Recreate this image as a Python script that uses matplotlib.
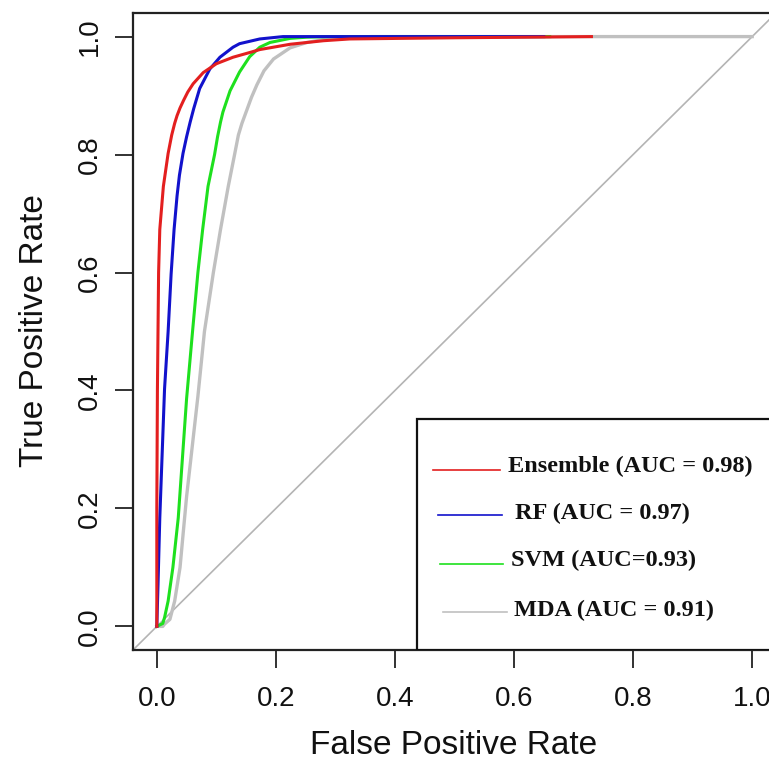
import matplotlib.pyplot as plt
from matplotlib.patches import Rectangle

# ROC curve points (false positive rate, true positive rate)
ens_fpr = [0, 0.0, 0.001, 0.003, 0.005, 0.011, 0.019, 0.025, 0.030, 0.034, 0.039, 0.045, 0.052,
           0.061, 0.078, 0.10, 0.128, 0.156, 0.173, 0.224, 0.28, 0.324, 0.41, 0.5, 0.62, 0.73]
ens_tpr = [0, 0.2, 0.4, 0.6, 0.673, 0.746, 0.802, 0.833, 0.853, 0.866, 0.879, 0.892, 0.906,
           0.92, 0.939, 0.954, 0.965, 0.973, 0.978, 0.987, 0.993, 0.996, 0.997, 0.998, 0.999, 1.0]

rf_fpr = [0, 0.002, 0.005, 0.013, 0.019, 0.024, 0.029, 0.034, 0.038, 0.044, 0.05, 0.056, 0.062,
          0.072, 0.089, 0.106, 0.128, 0.139, 0.156, 0.173, 0.212, 0.65]
rf_tpr = [0, 0.071, 0.184, 0.403, 0.5, 0.597, 0.673, 0.73, 0.765, 0.802, 0.83, 0.855, 0.878,
          0.912, 0.945, 0.965, 0.982, 0.988, 0.992, 0.996, 1.0, 1.0]

svm_fpr = [0, 0.01, 0.013, 0.019, 0.027, 0.036, 0.05, 0.06, 0.069, 0.077, 0.086, 0.097, 0.102,
           0.107, 0.111, 0.123, 0.139, 0.156, 0.173, 0.19, 0.224, 0.252, 0.29, 0.66]
svm_tpr = [0, 0.005, 0.015, 0.043, 0.1, 0.184, 0.386, 0.5, 0.6, 0.673, 0.746, 0.80, 0.83,
           0.855, 0.872, 0.908, 0.94, 0.966, 0.982, 0.99, 0.997, 0.999, 1.0, 1.0]

mda_fpr = [0, 0.01, 0.013, 0.022, 0.03, 0.039, 0.044, 0.05, 0.069, 0.08, 0.095, 0.107, 0.12,
           0.131, 0.137, 0.143, 0.151, 0.159, 0.168, 0.18, 0.196, 0.224, 0.252, 0.28, 0.319,
           0.36, 1.0]
mda_tpr = [0, 0.0, 0.004, 0.012, 0.043, 0.1, 0.155, 0.22, 0.39, 0.5, 0.6, 0.673, 0.746,
           0.802, 0.833, 0.853, 0.875, 0.897, 0.918, 0.942, 0.962, 0.981, 0.99, 0.995, 0.998,
           1.0, 1.0]

labels = ["Ensemble (AUC = 0.98)", "RF (AUC = 0.97)", "SVM (AUC=0.93)", "MDA (AUC = 0.91)"]
colors = ["#e31f1f", "#1212cc", "#1ee01e", "#c0c0c0"]
ticks = [0.0, 0.2, 0.4, 0.6, 0.8, 1.0]
tick_labels = ["0.0", "0.2", "0.4", "0.6", "0.8", "1.0"]

fig = plt.figure(figsize=(7.69, 7.67), dpi=100)
# axes deliberately run past the right edge, as in the cropped original
ax = fig.add_axes([133 / 769, 117 / 767, 643 / 769, 637 / 767])

ax.axline((0, 0), slope=1, color="#b4b4b4", lw=1.2, zorder=1)

ax.plot(mda_fpr, mda_tpr, color=colors[3], lw=2.4, zorder=2, solid_joinstyle="round")
ax.plot(svm_fpr, svm_tpr, color=colors[2], lw=2.2, zorder=3, solid_joinstyle="round")
ax.plot(rf_fpr, rf_tpr, color=colors[1], lw=2.2, zorder=4, solid_joinstyle="round")
ax.plot(ens_fpr, ens_tpr, color=colors[0], lw=2.2, zorder=5, solid_joinstyle="round")

ax.set_xlim(-0.04, 1.04)
ax.set_ylim(-0.04, 1.04)
ax.set_xticks(ticks)
ax.set_yticks(ticks)
ax.set_xticklabels(tick_labels, fontsize=20, family="Liberation Sans", color="#111111")
ax.set_yticklabels(tick_labels, fontsize=20, family="Liberation Sans", color="#111111",
                   rotation=90, va="center")
ax.tick_params(axis="both", direction="out", length=13, width=1.3, color="#222222")
ax.tick_params(axis="x", pad=13)
ax.tick_params(axis="y", pad=9)
for s in ax.spines.values():
    s.set_linewidth(1.6)
    s.set_color("#222222")

fig.text(454 / 769, 1 - 745 / 767, "False Positive Rate", fontsize=24,
         family="Liberation Sans", ha="center", va="center", color="#111111")
fig.text(35 / 769, 1 - 331 / 767, "True Positive Rate", fontsize=24, rotation=90,
         family="Liberation Sans", ha="center", va="center", color="#111111")

# legend box drawn by hand (bottom right, R style)
ax.add_patch(Rectangle((0.437, -0.04), 0.7, 0.392, facecolor="white",
                       edgecolor="#111111", lw=1.6, zorder=6))
line_x = [(0.464, 0.576), (0.472, 0.58), (0.476, 0.582), (0.481, 0.588)]
line_y = [0.265, 0.189, 0.106, 0.024]
text_x = [0.59, 0.602, 0.595, 0.6]
text_y = [0.2715, 0.192, 0.111, 0.027]
for i in range(4):
    ax.plot(line_x[i], [line_y[i], line_y[i]], color=colors[i], lw=1.2, zorder=7)
    ax.text(text_x[i], text_y[i], labels[i], fontsize=17.5, family="Liberation Serif",
            fontweight="bold", va="center", ha="left", color="#111111", zorder=7)

fig.savefig("out.png", dpi=100)
